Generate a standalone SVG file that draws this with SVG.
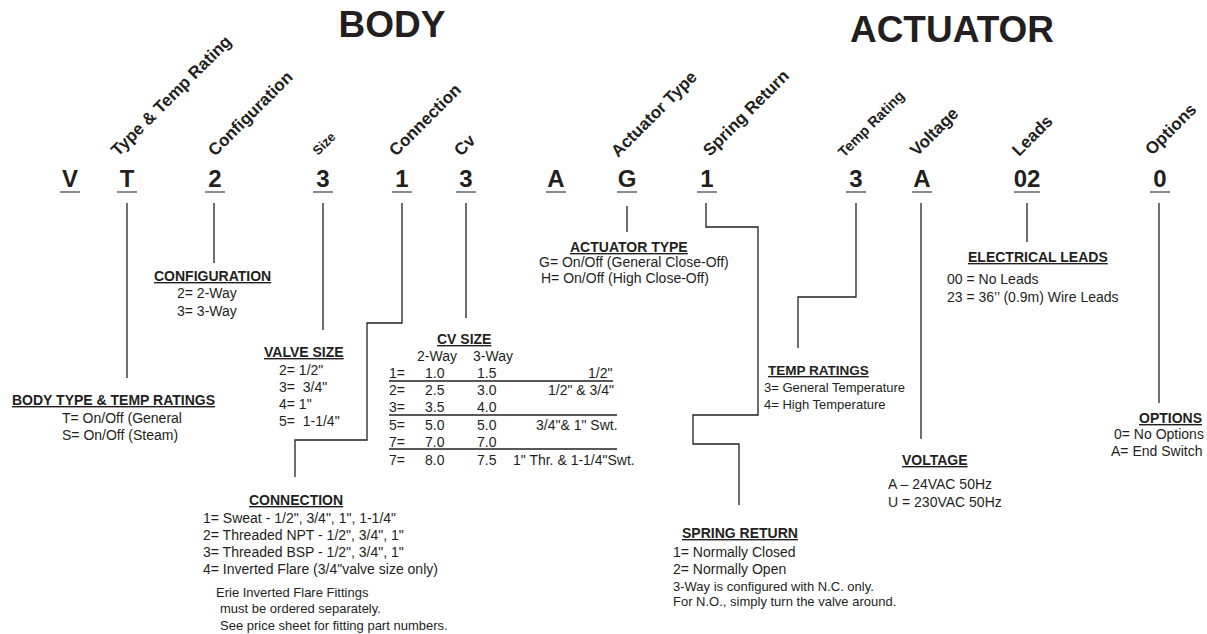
<svg xmlns="http://www.w3.org/2000/svg" width="1207" height="634" viewBox="0 0 1207 634">
<style>
text{font-family:"Liberation Sans",Arial,Helvetica,sans-serif;fill:#231f20}
.t{font-size:37px;font-weight:bold;text-anchor:middle}
.c{font-size:24px;font-weight:bold;text-anchor:middle}
.r{font-size:17px;font-weight:bold}
.h{font-size:14px;font-weight:bold;text-decoration:underline}
.i{font-size:14px}
.n{font-size:13px}
.ln{fill:none;stroke:#231f20;stroke-width:1.3}
.u{stroke:#6d6e71;stroke-width:1.6}
</style>
<rect width="1207" height="634" fill="#fff"/>
<g id="titles">
<text class="t" x="392" y="37">BODY</text>
<text class="t" x="952" y="42">ACTUATOR</text>
</g>
<g id="labels">
<text class="r" transform="translate(118,157) rotate(-45)">Type &amp; Temp Rating</text>
<text class="r" transform="translate(215,157) rotate(-45)">Configuration</text>
<text class="r" style="font-size:13px" transform="translate(318,156) rotate(-45)">Size</text>
<text class="r" transform="translate(396,157) rotate(-45)">Connection</text>
<text class="r" transform="translate(461,157) rotate(-45)">Cv</text>
<text class="r" transform="translate(618,158) rotate(-45)">Actuator Type</text>
<text class="r" transform="translate(710,157) rotate(-45)">Spring Return</text>
<text class="r" style="font-size:14.5px" transform="translate(844,158) rotate(-45)">Temp Rating</text>
<text class="r" transform="translate(917,157) rotate(-45)">Voltage</text>
<text class="r" transform="translate(1019,157) rotate(-45)">Leads</text>
<text class="r" transform="translate(1152,156) rotate(-45)">Options</text>
</g>
<g id="code">
<text class="c" x="70" y="187">V</text><line class="u" x1="60" y1="192" x2="80" y2="192"/>
<text class="c" x="127" y="187">T</text><line class="u" x1="117" y1="192" x2="137" y2="192"/>
<text class="c" x="215" y="187">2</text><line class="u" x1="205" y1="192" x2="225" y2="192"/>
<text class="c" x="323" y="187">3</text><line class="u" x1="313" y1="192" x2="333" y2="192"/>
<text class="c" x="402" y="187">1</text><line class="u" x1="392" y1="192" x2="412" y2="192"/>
<text class="c" x="466" y="187">3</text><line class="u" x1="456" y1="192" x2="476" y2="192"/>
<text class="c" x="556" y="187">A</text><line class="u" x1="546" y1="192" x2="566" y2="192"/>
<text class="c" x="627" y="187">G</text><line class="u" x1="617" y1="192" x2="637" y2="192"/>
<text class="c" x="707" y="187">1</text><line class="u" x1="697" y1="192" x2="717" y2="192"/>
<text class="c" x="856" y="187">3</text><line class="u" x1="846" y1="192" x2="866" y2="192"/>
<text class="c" x="922" y="187">A</text><line class="u" x1="912" y1="192" x2="932" y2="192"/>
<text class="c" x="1027" y="187">02</text><line class="u" x1="1014" y1="192" x2="1040" y2="192"/>
<text class="c" x="1160" y="187">0</text><line class="u" x1="1150" y1="192" x2="1170" y2="192"/>
</g>
<g id="connectors">
<path class="ln" d="M127,203V378"/>
<path class="ln" d="M214,203V263"/>
<path class="ln" d="M323,203V330"/>
<path class="ln" d="M402,203V323H367V440H295V477"/>
<path class="ln" d="M466,203V318"/>
<path class="ln" d="M627,206V232"/>
<path class="ln" d="M706,203V227H758V415H693V444H739V505"/>
<path class="ln" d="M856,203V297H798V348"/>
<path class="ln" d="M921,203V439"/>
<path class="ln" d="M1027,203V242"/>
<path class="ln" d="M1159,203V403"/>
</g>
<g id="body-type">
<text class="h" x="12" y="405">BODY TYPE &amp; TEMP RATINGS</text>
<text class="i" x="62" y="423">T= On/Off (General</text>
<text class="i" x="62" y="440">S= On/Off (Steam)</text>
</g>
<g id="configuration">
<text class="h" x="154" y="281">CONFIGURATION</text>
<text class="i" x="177" y="298">2= 2-Way</text>
<text class="i" x="177" y="316">3= 3-Way</text>
</g>
<g id="valve-size">
<text class="h" x="264" y="357">VALVE SIZE</text>
<text class="i" x="279" y="375">2= 1/2"</text>
<text class="i" x="279" y="392">3=&#160; 3/4"</text>
<text class="i" x="279" y="409">4= 1"</text>
<text class="i" x="279" y="426">5=&#160; 1-1/4"</text>
</g>
<g id="cv-size">
<text class="h" x="437" y="344">CV SIZE</text>
<text class="i" x="417" y="361">2-Way</text>
<text class="i" x="473" y="361">3-Way</text>
<text class="i" x="389" y="378">1=</text><text class="i" x="425" y="378">1.0</text><text class="i" x="477" y="378">1.5</text><text class="i" x="588" y="378">1/2"</text>
<text class="i" x="389" y="395">2=</text><text class="i" x="425" y="395">2.5</text><text class="i" x="477" y="395">3.0</text><text class="i" x="548" y="395">1/2" &amp; 3/4"</text>
<text class="i" x="389" y="412">3=</text><text class="i" x="425" y="412">3.5</text><text class="i" x="477" y="412">4.0</text>
<text class="i" x="389" y="430">5=</text><text class="i" x="425" y="430">5.0</text><text class="i" x="477" y="430">5.0</text><text class="i" x="536" y="430">3/4"&amp; 1" Swt.</text>
<text class="i" x="389" y="447">7=</text><text class="i" x="425" y="447">7.0</text><text class="i" x="477" y="447">7.0</text>
<text class="i" x="389" y="465">7=</text><text class="i" x="425" y="465">8.0</text><text class="i" x="477" y="465">7.5</text><text class="i" x="513" y="465">1" Thr. &amp; 1-1/4"Swt.</text>
<line class="ln" x1="389" y1="381" x2="613" y2="381"/>
<line class="ln" x1="389" y1="415" x2="617" y2="415"/>
<line class="ln" x1="389" y1="449" x2="617" y2="449"/>
</g>
<g id="connection">
<text class="h" x="249" y="505">CONNECTION</text>
<text class="i" x="203" y="523">1= Sweat - 1/2", 3/4", 1", 1-1/4"</text>
<text class="i" x="203" y="540">2= Threaded NPT - 1/2", 3/4", 1"</text>
<text class="i" x="203" y="557">3= Threaded BSP - 1/2", 3/4", 1"</text>
<text class="i" x="203" y="574">4= Inverted Flare (3/4"valve size only)</text>
<text class="n" x="216" y="597">Erie Inverted Flare Fittings</text>
<text class="n" x="220" y="613">must be ordered separately.</text>
<text class="n" x="220" y="630">See price sheet for fitting part numbers.</text>
</g>
<g id="actuator-type">
<text class="h" x="570" y="252">ACTUATOR TYPE</text>
<text class="i" x="539" y="267">G= On/Off (General Close-Off)</text>
<text class="i" x="541" y="283">H= On/Off (High Close-Off)</text>
</g>
<g id="spring-return">
<text class="h" x="682" y="538">SPRING RETURN</text>
<text class="i" x="673" y="557">1= Normally Closed</text>
<text class="i" x="673" y="574">2= Normally Open</text>
<text class="n" x="673" y="591">3-Way is configured with N.C. only.</text>
<text class="n" x="673" y="606">For N.O., simply turn the valve around.</text>
</g>
<g id="temp-ratings">
<text class="h" style="font-size:13.5px" x="768" y="375">TEMP RATINGS</text>
<text class="i" style="font-size:13px" x="764" y="392">3= General Temperature</text>
<text class="i" style="font-size:13px" x="764" y="409">4= High Temperature</text>
</g>
<g id="voltage">
<text class="h" x="902" y="465">VOLTAGE</text>
<text class="i" x="888" y="489">A – 24VAC 50Hz</text>
<text class="i" x="888" y="507">U = 230VAC 50Hz</text>
</g>
<g id="electrical-leads">
<text class="h" x="968" y="262">ELECTRICAL LEADS</text>
<text class="i" x="947" y="284">00 = No Leads</text>
<text class="i" x="947" y="302">23 = 36’’ (0.9m) Wire Leads</text>
</g>
<g id="options">
<text class="h" x="1139" y="423">OPTIONS</text>
<text class="i" x="1114" y="439">0= No Options</text>
<text class="i" x="1111" y="456">A= End Switch</text>
</g>
</svg>
